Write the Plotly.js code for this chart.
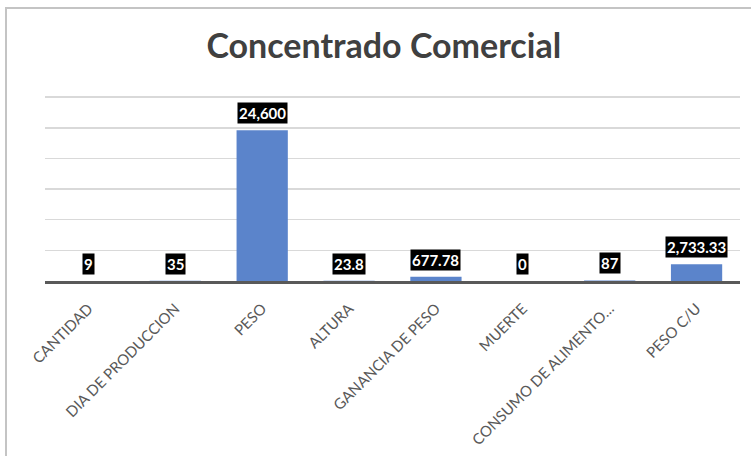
<!DOCTYPE html>
<html>
<head>
<meta charset="utf-8">
<script src="https://cdn.plot.ly/plotly-3.0.1.min.js"></script>
<style>
  html, body { margin: 0; padding: 0; background: #ffffff; }
  #chart { position: absolute; left: 0; top: 0; width: 751px; height: 456px; }
  #frame { position: absolute; left: 5px; top: 7px; width: 800px; height: 500px;
           border-left: 2px solid #c4c4c4; border-top: 2px solid #c4c4c4; pointer-events: none; }
</style>
</head>
<body>
<div id="chart"></div>
<div id="frame"></div>
<script>
const categories = ["CANTIDAD", "DIA DE PRODUCCION", "PESO", "ALTURA", "GANANCIA DE PESO", "MUERTE", "CONSUMO DE ALIMENTO…", "PESO C/U"];
const values = [9, 35, 24600, 23.8, 677.78, 0, 87, 2733.33];
const valueLabels = ["9", "35", "24,600", "23.8", "677.78", "0", "87", "2,733.33"];
const yTicks = [0, 5000, 10000, 15000, 20000, 25000, 30000];

const trace = {
  type: "bar",
  x: categories,
  y: values,
  marker: { color: "#5b84cb", line: { width: 0 } },
  hoverinfo: "skip"
};

const annotations = categories.map((c, i) => ({
  x: c, y: values[i], xref: "x", yref: "y",
  text: "<b>" + valueLabels[i] + "</b>",
  showarrow: false, yanchor: "bottom", xanchor: "center", yshift: 6,
  bgcolor: "#000000", borderpad: 1,
  font: { family: "Lato, 'Open Sans', sans-serif", size: 15, color: "#ffffff" }
}));

const layout = {
  width: 751, height: 456,
  margin: { l: 45, r: 11, t: 91, b: 175 },
  paper_bgcolor: "#ffffff", plot_bgcolor: "#ffffff",
  title: {
    text: "<b>Concentrado Comercial</b>",
    font: { family: "Lato, 'Open Sans', sans-serif", size: 34, color: "#404040" },
    x: 0.511, xanchor: "center", y: 0.898, yanchor: "middle"
  },
  showlegend: false,
  bargap: 0.41,
  xaxis: {
    type: "category",
    tickangle: -45,
    tickfont: { family: "Lato, 'Open Sans', sans-serif", size: 15, color: "#595959" },
    ticklabelstandoff: 10,
    showline: true, linecolor: "#595959", linewidth: 3,
    ticks: "", showgrid: false, zeroline: false, fixedrange: true
  },
  yaxis: {
    range: [0, 31000],
    tickvals: yTicks,
    showticklabels: false,
    showgrid: true, gridcolor: "#d9d9d9", gridwidth: 1.5,
    zeroline: false, showline: false, ticks: "", fixedrange: true
  },
  annotations: annotations
};

Plotly.newPlot("chart", [trace], layout, { displayModeBar: false, staticPlot: true });
</script>
</body>
</html>
